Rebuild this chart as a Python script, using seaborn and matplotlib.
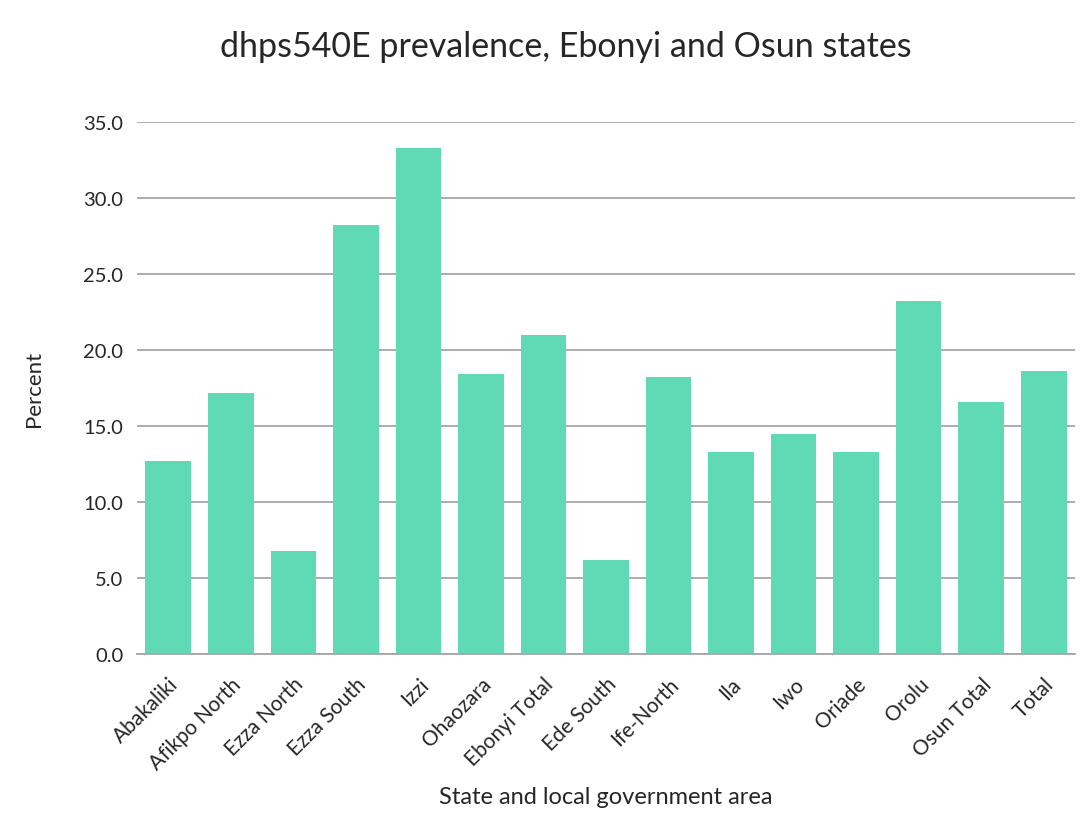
import matplotlib
matplotlib.use('Agg')
import matplotlib.pyplot as plt
import seaborn as sns
import pandas as pd

# dados
areas = ['Abakaliki', 'Afikpo North', 'Ezza North', 'Ezza South', 'Izzi', 'Ohaozara',
         'Ebonyi Total', 'Ede South', 'Ife-North', 'Ila', 'Iwo', 'Oriade', 'Orolu',
         'Osun Total', 'Total']
percent = [12.7, 17.2, 6.8, 28.2, 33.3, 18.4, 21.0, 6.2, 18.2, 13.3, 14.5, 13.3, 23.2, 16.6, 18.6]

df = pd.DataFrame({'area': areas, 'percent': percent})

sns.set_style('white')
plt.rcParams['font.family'] = ['Lato', 'DejaVu Sans']

fig = plt.figure(figsize=(10.84, 8.2), dpi=100)
ax = fig.add_axes([0.1264, 0.2012, 0.8653, 0.6488])

sns.barplot(x='area', y='percent', data=df, color='#5FDAB4', saturation=1, width=0.73,
            linewidth=0, ax=ax)

ax.set_ylim(0, 35)
ax.set_yticks([0, 5, 10, 15, 20, 25, 30, 35])
ax.set_yticklabels([f'{v:.1f}' for v in ax.get_yticks()], fontsize=14.5)
ax.yaxis.grid(True, color='#A6A6A6', linewidth=1.3)
ax.set_axisbelow(True)
ax.set_xlim(-0.5, len(areas) - 0.5)

for s in ['top', 'right', 'left']:
    ax.spines[s].set_visible(False)
ax.spines['bottom'].set_color('#A6A6A6')
ax.spines['bottom'].set_linewidth(1.3)
ax.tick_params(axis='y', length=0, pad=10)
ax.tick_params(axis='x', length=0, pad=14)

ax.set_xticks(range(len(areas)))
ax.set_xticklabels(areas, rotation=45, ha='right', rotation_mode='anchor', fontsize=15)

ax.set_xlabel('State and local government area', fontsize=17, labelpad=10)
ax.set_ylabel('Percent', fontsize=16, labelpad=28)
fig.suptitle('dhps540E prevalence, Ebonyi and Osun states', fontsize=24.5, x=0.522, y=0.962)

fig.savefig('out.png', dpi=100, facecolor='white')
